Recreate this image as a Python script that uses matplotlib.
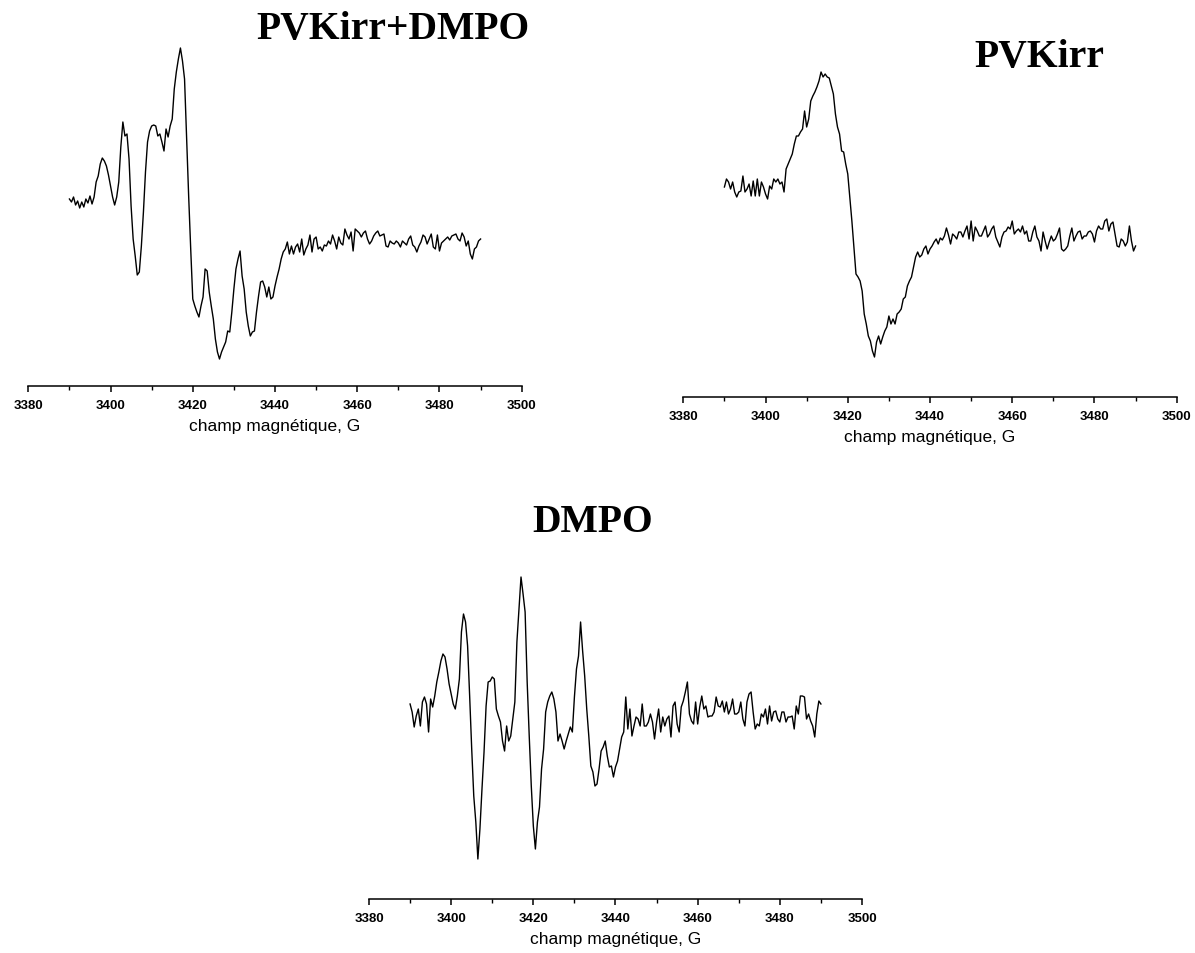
import numpy as np
import matplotlib
matplotlib.use('Agg')
import matplotlib.pyplot as plt
from matplotlib.ticker import MultipleLocator

# EPR spectra, field 3390-3490 G sampled every 0.5 G, intensity in arbitrary units
field_start, field_end = 3390, 3490

pvk_dmpo = [0, -3, 2, -6, -2, -9, -3, -8, 0, -4, 3, -5, 2, 17, 23, 35, 41, 38, 33, 24,
            13, 2, -6, 2, 17, 52, 77, 63, 65, 40, -7, -40, -57, -76, -73, -47, -13, 27, 57, 68,
            73, 74, 73, 63, 65, 57, 48, 70, 62, 73, 80, 110, 127, 140, 151, 138, 120, 60, 3, -50,
            -100, -107, -113, -118, -107, -98, -70, -72, -93, -107, -120, -140, -153, -160, -153, -148, -143, -132, -133, -113,
            -90, -70, -60, -52, -77, -90, -113, -127, -137, -133, -132, -113, -97, -83, -82, -88, -98, -88, -100, -98,
            -87, -78, -70, -60, -53, -50, -43,
            -55, -47, -55, -48, -45, -53, -40, -56, -50, -46, -36, -53, -40, -38, -50, -48, -52, -46, -47, -42,
            -45, -36, -42, -50, -38, -44, -46, -30, -36, -40, -33, -52, -30, -32, -34, -38, -34, -32, -40, -45,
            -42, -37, -34, -32, -37, -36, -35, -47, -48, -42, -44, -45, -42, -44, -48, -42, -44, -46, -40, -37,
            -46, -48, -53, -47, -43, -36, -38, -45, -40, -35, -48, -50, -36, -52, -44, -42, -40, -38, -41, -37,
            -36, -35, -40, -42, -34, -38, -47, -42, -55, -60, -50, -48, -42, -40]

pvk = [2, 10, 7, 0, 7, -3, -8, -3, -2, 13, -3, 0, 5, -7, 8, -7, 10, -7, 7, 2,
       -5, -10, 3, 0, 10, 7, 10, 5, 7, -3, 20, 25, 30, 35, 45, 53, 53, 57, 60, 78,
       62, 70, 88, 93, 97, 102, 108, 117, 112, 115, 112, 111, 103, 95, 75, 62, 55, 38, 37, 25,
       15, -8, -32, -58, -85, -88, -92, -102, -125, -135, -147, -152, -162, -168, -153, -147, -155, -148, -142, -138,
       -127, -135, -130, -135, -125, -123, -120, -110, -108, -97, -92, -88, -78,
       -68, -63, -68, -66, -60, -57, -65, -60, -57, -53, -50, -55, -49, -51, -47, -39, -46, -55, -45, -47,
       -50, -43, -43, -48, -42, -37, -50, -32, -52, -38, -42, -47, -47, -42, -37, -48, -45, -40, -37, -48,
       -53, -58, -48, -43, -42, -38, -40, -32, -45, -42, -40, -43, -37, -45, -42, -52, -52, -43, -37, -48,
       -52, -62, -43, -52, -60, -53, -47, -52, -50, -45, -39, -60, -62, -60, -57, -47, -39, -52, -47, -43,
       -42, -50, -47, -47, -43, -42, -45, -53, -42, -37, -40, -40, -32, -30, -42, -35, -33, -45, -57, -58,
       -50, -52, -57, -53, -37, -52, -62, -57]

dmpo = [-5, -13, -28, -17, -10, -27, -3, 2, -5, -33, 0, -8, 3, 17, 27, 38, 45, 42, 30, 15,
        5, -5, -10, 3, 20, 67, 85, 77, 53, 3, -50, -97, -123, -160, -130, -90, -53, -7, 17, 18,
        22, 20, -10, -17, -23, -42, -52, -27, -42, -37, -20, -3, 57, 90, 122, 105, 87, 17, -37, -87,
        -127, -150, -123, -108, -70, -50, -13, -3, 3, 7, 0, -13, -42, -35, -42, -50, -42, -35, -28, -33,
        2, 30, 43, 77, 48, 23, -10, -37, -67, -73, -87, -85, -70, -52, -48, -42, -57, -68, -67, -78,
        -68, -62, -50, -38, -33, 2, -30, -10, -37, -27, -18, -20, -27, -5, -27, -27, -23, -15, -23, -40,
        -23, -10, -33, -18, -27, -20, -17, -38, -7, -3, -25, -33,
        -8, -2, 7, 17, -15, -22, -25, -3, -25, -8, 3, -10, -7, -18, -17, -17, -13, 2, -7, -8,
        -2, -13, -3, -15, -10, 0, -15, -15, -13, -3, -20, -27, -3, 5, 7, -13, -30, -25, -27, -15,
        -18, -10, -25, -7, -22, -13, -12, -20, -23, -13, -13, -23, -18, -18, -17, -30, -7, -15, 3, 3,
        2, -20, -15, -22, -27, -38, -15, -2, -5]

titles = ['PVKirr+DMPO', 'PVKirr', 'DMPO']
xlabel = 'champ magnétique, G'

W, H = 1195, 954
fig = plt.figure(figsize=(W / 100, H / 100), dpi=100)


def add_panel(vals, x0, x1, ybot, ytop, ylim):
    ax = fig.add_axes([x0 / W, 1 - ybot / H, (x1 - x0) / W, (ybot - ytop) / H])
    f = np.linspace(field_start, field_end, len(vals))
    ax.plot(f, vals, color='black', lw=1.0)
    ax.set_xlim(3380, 3500)
    ax.set_ylim(*ylim)
    for s in ['left', 'right', 'top']:
        ax.spines[s].set_visible(False)
    ax.spines['bottom'].set_linewidth(1.1)
    ax.set_yticks([])
    ax.xaxis.set_major_locator(MultipleLocator(20))
    ax.xaxis.set_minor_locator(MultipleLocator(10))
    ax.tick_params(axis='x', which='major', length=4.5, width=1.1, pad=5)
    ax.tick_params(axis='x', which='minor', length=3, width=1.0)
    for lab in ax.get_xticklabels():
        lab.set_fontfamily('Liberation Sans')
        lab.set_fontweight('bold')
        lab.set_fontsize(9.5)
    ax.set_xlabel(xlabel, fontfamily='Liberation Sans', fontsize=12.5, labelpad=5)
    ax.patch.set_alpha(0)
    return ax


add_panel(pvk_dmpo, 28.3, 521.7, 386.7, 40, (-186.7, 160))
add_panel(pvk, 683.3, 1176.7, 397.7, 40, (-207.7, 150))
add_panel(dmpo, 369, 862, 900, 560, (-200, 140))

title_pos = [(393, 30), (1039, 57), (593, 523)]
for t, (tx, ty) in zip(titles, title_pos):
    fig.text(tx / W, 1 - ty / H, t, ha='center', va='center',
             fontfamily='Liberation Serif', fontweight='bold', fontsize=28.5)

plt.savefig('out.png', dpi=100)
